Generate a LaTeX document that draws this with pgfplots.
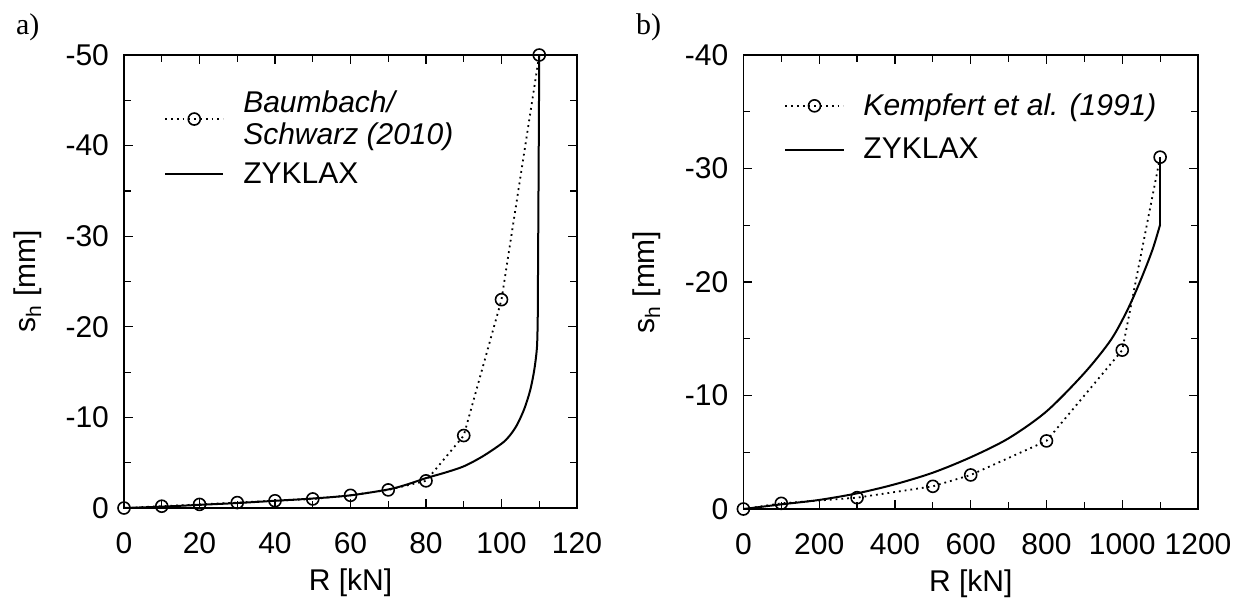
\documentclass[border=0pt]{standalone}
\usepackage{pgfplots}
\pgfplotsset{compat=1.18}
\usepackage{fontspec}
\setmainfont{Liberation Sans}
\newfontfamily\seriffont{Liberation Serif}

\pgfplotsset{
  myaxis/.style={
    scale only axis,
    y dir=reverse,
    axis line style={line width=0.6pt},
    every tick/.style={black, line width=0.6pt},
    major tick length=4.5pt, minor tick length=3.5pt,
    tick align=inside,
    minor x tick num=1, minor y tick num=1,
    tick label style={font=\fontsize{15}{15}\selectfont},
    label style={font=\fontsize{15}{15}\selectfont},
    yticklabel style={xshift=-4pt},
    xticklabel style={anchor=center, yshift=-17.5pt},
    xlabel style={at={(axis description cs:0.5,-0.1656)}, anchor=center},
    ylabel style={at={(axis description cs:-0.212,0.5)}, anchor=center},
    legend style={draw=none, fill=none, inner sep=0pt,
      font=\fontsize{15}{16}\selectfont,
      cells={anchor=west, align=left}, row sep=6pt, column sep=7.5pt},
    legend image code/.code={\draw[mark repeat=2,mark phase=2,#1] plot coordinates {(0pt,0pt) (14.5pt,0pt) (29pt,0pt)};},
  },
  meas/.style={black, line width=0.9pt, dash pattern=on 0.9pt off 2pt, mark=o, mark size=3pt, mark options={solid, line width=0.8pt}},
  zyk/.style={black, line width=1pt, no marks},
}

\begin{document}
\begin{tikzpicture}
\path[use as bounding box] (0,0) rectangle (620.5pt,-300.5pt);
\node[anchor=west, font=\seriffont\fontsize{15}{15}\selectfont] at (4.5pt,-13.5pt) {a)};
\node[anchor=west, font=\seriffont\fontsize{15}{15}\selectfont] at (314.5pt,-13.5pt) {b)};

\begin{axis}[myaxis,
  at={(62pt,-254pt)}, anchor=south west,
  width=226.5pt, height=226.5pt,
  xmin=0, xmax=120, ymin=-50, ymax=0,
  xtick={0,20,40,60,80,100,120},
  xticklabels={0,20,40,60,80,100,120},
  ytick={-50,-40,-30,-20,-10,0},
  yticklabels={-50,-40,-30,-20,-10,0},
  xlabel={R [kN]}, ylabel={s\textsubscript{h} [mm]},
  legend style={at={(axis description cs:0.088,0.931)}, anchor=north west, row sep=3.5pt},
]
\addplot[meas] coordinates {
(0,0) (10,-0.2) (20,-0.4) (30,-0.6) (40,-0.8) (50,-1.0) (60,-1.4) (70,-2.0) (80,-3.0) (90,-8.0) (100,-23.0) (110,-50.0)
};
\addlegendentry{\textit{Baumbach/}\\\textit{Schwarz (2010)}}
\addplot[zyk, smooth] coordinates {
(0,0) (10,-0.15) (20,-0.35) (30,-0.55) (40,-0.8) (50,-1.05) (60,-1.4) (70,-2.05) (75,-2.6) (80,-3.3) (85,-3.9) (90,-4.6) (95,-5.7) (100,-7.1) (102,-7.9) (104,-9.1) (106,-10.9) (107.6,-13.0) (108.7,-15.3) (109.4,-17.8) (109.6,-21)
};
\addlegendentry{ZYKLAX}
\addplot[zyk, forget plot] coordinates {
(109.6,-21) (109.8,-35) (110,-50)
};
\end{axis}

\begin{axis}[myaxis,
  at={(371.7pt,-254.5pt)}, anchor=south west,
  width=227.3pt, height=227pt,
  xmin=0, xmax=1200, ymin=-40, ymax=0,
  xtick={0,200,400,600,800,1000,1200},
  xticklabels={0,200,400,600,800,1000,1200},
  ytick={-40,-30,-20,-10,0},
  yticklabels={-40,-30,-20,-10,0},
  xlabel={R [kN]}, ylabel={s\textsubscript{h} [mm]},
  legend style={at={(axis description cs:0.0895,0.925)}, anchor=north west},
]
\addplot[meas] coordinates {
(0,0) (100,-0.5) (300,-1.0) (500,-2.0) (600,-3.0) (800,-6.0) (1000,-14.0) (1100,-31.0)
};
\addlegendentry{\textit{Kempfert et al. (1991)}}
\addplot[zyk, smooth] coordinates {
(0,0) (100,-0.41) (200,-0.8) (300,-1.38) (400,-2.18) (500,-3.2) (600,-4.56) (700,-6.23) (800,-8.6) (900,-11.98) (970,-14.9) (1014,-17.56) (1049,-20.2) (1080,-22.86) (1100,-25.06)
};
\addlegendentry{ZYKLAX}
\addplot[zyk, forget plot] coordinates {
(1100,-25.06) (1100,-31.0)
};
\end{axis}
\end{tikzpicture}
\end{document}
